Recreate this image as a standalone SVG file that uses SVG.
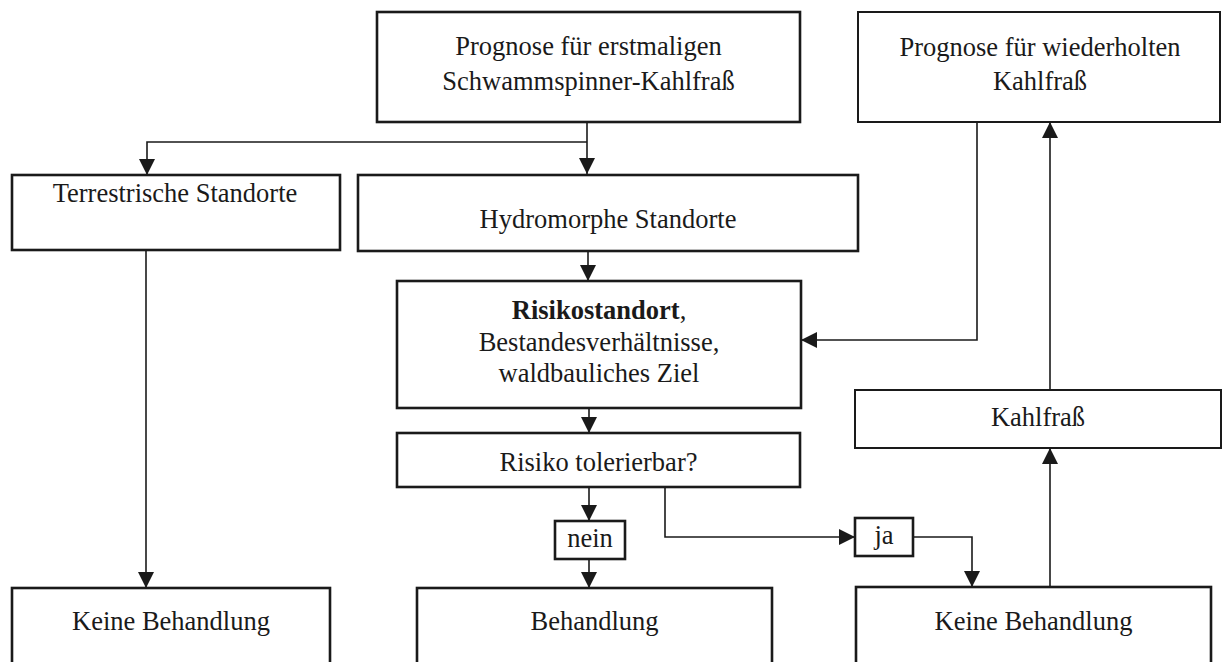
<svg xmlns="http://www.w3.org/2000/svg" width="1223" height="662" viewBox="0 0 1223 662">
  <style>
    .box { fill: #ffffff; stroke: #1a1a1a; stroke-width: 2.6; }
    .box-thin { fill: #ffffff; stroke: #1a1a1a; stroke-width: 2; }
    .lbl { font-family: "Liberation Serif", "Times New Roman", serif; font-size: 26.5px; fill: #1a1a1a; text-anchor: middle; }
    .edge { fill: none; stroke: #1a1a1a; stroke-width: 1.6; marker-end: url(#arrow); }
  </style>
  <defs>
    <marker id="arrow" markerUnits="userSpaceOnUse" markerWidth="16" markerHeight="16" viewBox="0 0 10 10" refX="10" refY="5" orient="auto">
      <path d="M0,0 L10,5 L0,10 z" fill="#1a1a1a"/>
    </marker>
  </defs>
  <rect width="1223" height="662" fill="#ffffff"/>

  <!-- connectors -->
  <g id="connectors">
    <path class="edge" d="M587,122 L587,174"/>
    <path class="edge" d="M587,142 L147,142 L147,175"/>
    <path class="edge" d="M146,250 L146,588"/>
    <path class="edge" d="M588,251 L588,281"/>
    <path class="edge" d="M977,122 L977,340 L801,340"/>
    <path class="edge" d="M589,408 L589,433"/>
    <path class="edge" d="M589,487 L589,521"/>
    <path class="edge" d="M589,559 L589,588"/>
    <path class="edge" d="M665,487 L665,537 L855,537"/>
    <path class="edge" d="M913,537 L972,537 L972,587"/>
    <path class="edge" d="M1050,587 L1050,448"/>
    <path class="edge" d="M1050,390 L1050,122"/>
  </g>

  <g id="prognose-erstmalig">
    <rect class="box" x="377" y="12" width="423" height="110"/>
    <text class="lbl" x="588.5" y="55">Prognose für erstmaligen</text>
    <text class="lbl" x="588.5" y="90">Schwammspinner-Kahlfraß</text>
  </g>

  <g id="prognose-wiederholt">
    <rect class="box-thin" x="858" y="12" width="362" height="110"/>
    <text class="lbl" x="1040" y="56">Prognose für wiederholten</text>
    <text class="lbl" x="1040" y="90">Kahlfraß</text>
  </g>

  <g id="terrestrisch">
    <rect class="box" x="12" y="175" width="328" height="75"/>
    <text class="lbl" x="175" y="202">Terrestrische Standorte</text>
  </g>

  <g id="hydromorph">
    <rect class="box" x="358" y="175" width="500" height="76"/>
    <text class="lbl" x="608" y="228">Hydromorphe Standorte</text>
  </g>

  <g id="risikostandort">
    <rect class="box" x="397" y="281" width="404" height="127"/>
    <text class="lbl" x="599" y="319"><tspan font-weight="bold">Risikostandort</tspan>,</text>
    <text class="lbl" x="599" y="351">Bestandesverhältnisse,</text>
    <text class="lbl" x="599" y="382">waldbauliches Ziel</text>
  </g>

  <g id="kahlfrass">
    <rect class="box-thin" x="855" y="390" width="366" height="58"/>
    <text class="lbl" x="1038" y="426">Kahlfraß</text>
  </g>

  <g id="risiko-tolerierbar">
    <rect class="box" x="397" y="433" width="403" height="54"/>
    <text class="lbl" x="598.5" y="471">Risiko tolerierbar?</text>
  </g>

  <g id="nein">
    <rect class="box" x="555" y="521" width="70" height="38"/>
    <text class="lbl" x="590" y="547">nein</text>
  </g>

  <g id="ja">
    <rect class="box" x="855" y="518" width="58" height="38"/>
    <text class="lbl" x="884" y="544">ja</text>
  </g>

  <g id="keine-behandlung-links">
    <rect class="box" x="12" y="588" width="318" height="90"/>
    <text class="lbl" x="171" y="630">Keine Behandlung</text>
  </g>

  <g id="behandlung">
    <rect class="box" x="417" y="588" width="355" height="90"/>
    <text class="lbl" x="594.5" y="630">Behandlung</text>
  </g>

  <g id="keine-behandlung-rechts">
    <rect class="box" x="856" y="587" width="355" height="90"/>
    <text class="lbl" x="1033.5" y="630">Keine Behandlung</text>
  </g>
</svg>
